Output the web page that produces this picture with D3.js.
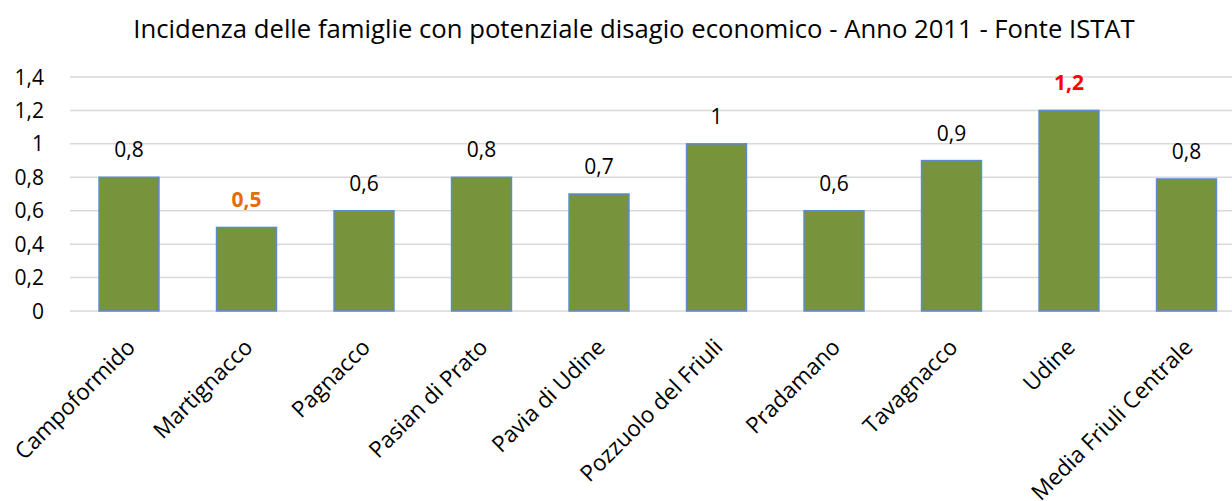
<!DOCTYPE html>
<html><head><meta charset="utf-8">
<script src="https://cdn.jsdelivr.net/npm/d3@7"></script>
<style>body{margin:0;background:#fff;}svg{display:block;}text{font-family:"Open Sans",sans-serif;}</style>
</head><body>
<svg id="c" width="1232" height="501"></svg>
<script>
const categories = ["Campoformido","Martignacco","Pagnacco","Pasian di Prato","Pavia di Udine","Pozzuolo del Friuli","Pradamano","Tavagnacco","Udine","Media Friuli Centrale"];
const values = [0.8,0.5,0.6,0.8,0.7,1.0,0.6,0.9,1.2,0.79];
const valueLabels = ["0,8","0,5","0,6","0,8","0,7","1","0,6","0,9","1,2","0,8"];
const labelColors = ["#000","#E46C0A","#000","#000","#000","#000","#000","#000","#FF0000","#000"];
const labelBold = [false,true,false,false,false,false,false,false,true,false];
const yTicks = [0,0.2,0.4,0.6,0.8,1.0,1.2,1.4];
const yTickLabels = ["0","0,2","0,4","0,6","0,8","1","1,2","1,4"];
const title = "Incidenza delle famiglie con potenziale disagio economico - Anno 2011 - Fonte ISTAT";

const svg = d3.select("#c");
const x = d3.scaleBand().domain(categories).range([70.25,1245.25]).paddingInner(0.49).paddingOuter(0.245);
const y = d3.scaleLinear().domain([0,1.4]).range([311,77]);
const FS = 21;
const CFS = 22.5;

// gridlines
svg.append("g").selectAll("line").data(yTicks).join("line")
  .attr("x1",70).attr("x2",1232).attr("y1",d=>y(d)).attr("y2",d=>y(d))
  .attr("stroke","#D9D9D9").attr("stroke-width",1.5);

// y labels
svg.append("g").selectAll("text").data(yTicks).join("text")
  .attr("x",44).attr("y",d=>y(d)).attr("dy","0.36em").attr("text-anchor","end")
  .attr("font-size",FS).attr("fill","#000").text((d,i)=>yTickLabels[i]);

// bars
svg.append("g").selectAll("rect").data(values).join("rect")
  .attr("x",(d,i)=>x(categories[i])).attr("width",x.bandwidth())
  .attr("y",d=>y(d)).attr("height",d=>y(0)-y(d))
  .attr("fill","#77933C").attr("stroke","#5B8CD0").attr("stroke-width",1.5);

// value labels
svg.append("g").selectAll("text").data(values).join("text")
  .attr("x",(d,i)=>x(categories[i])+x.bandwidth()/2).attr("y",d=>y(d)-20)
  .attr("text-anchor","middle").attr("font-size",FS)
  .attr("fill",(d,i)=>labelColors[i]).attr("font-weight",(d,i)=>labelBold[i]?"bold":"normal")
  .text((d,i)=>valueLabels[i]);

// category labels
svg.append("g").selectAll("text").data(categories).join("text")
  .attr("transform",d=>`translate(${x(d)+x.bandwidth()/2+2},${343}) rotate(-45)`)
  .attr("text-anchor","end").attr("dy","0.35em").attr("font-size",CFS).attr("fill","#000").text(d=>d);

// title
const t = svg.append("text").attr("x",634).attr("y",38).attr("text-anchor","middle")
  .attr("font-size",20).attr("fill","#000").text(title);
const w = t.node().getComputedTextLength();
t.attr("font-size",20*1002/w);
</script>
</body></html>
